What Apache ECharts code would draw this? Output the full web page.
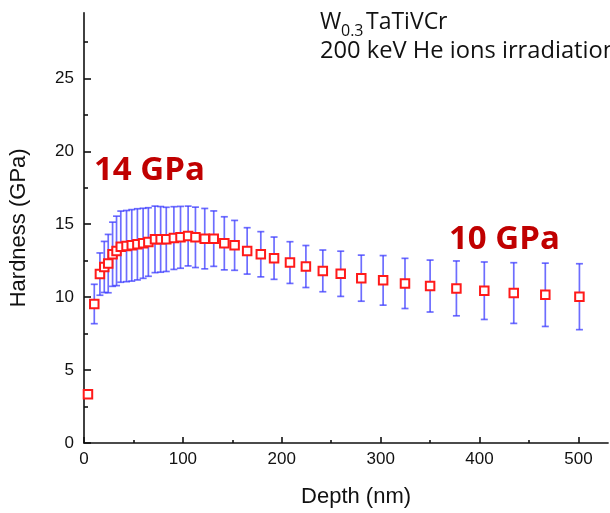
<!DOCTYPE html>
<html>
<head>
<meta charset="utf-8">
<script src="https://cdn.jsdelivr.net/npm/echarts@6/dist/echarts.min.js"></script>
<style>html,body{margin:0;padding:0;background:#fff}#c{width:610px;height:513px}</style>
</head>
<body>
<div id="c"></div>
<script>
var depth = [4, 10.4, 16.1, 20.5, 24.5, 28.9, 32.9, 37.2, 43, 48.3, 54, 59.8, 65.1, 71.8, 77.5, 83.2, 90.9, 97.6, 105.3, 112.7, 122.1, 131.2, 141.9, 152.3, 165, 178.8, 192.2, 208.3, 224.4, 241.5, 259.6, 280.4, 302.5, 324.6, 350, 376.6, 404.8, 434.6, 466.5, 501];
var hardness = [3.34, 9.53, 11.58, 12.07, 12.3, 12.94, 13.17, 13.46, 13.5, 13.55, 13.62, 13.69, 13.78, 13.96, 13.96, 13.96, 14.05, 14.1, 14.19, 14.1, 14.01, 14.01, 13.69, 13.55, 13.17, 12.94, 12.67, 12.37, 12.1, 11.8, 11.6, 11.3, 11.15, 10.94, 10.76, 10.6, 10.44, 10.28, 10.16, 10.03];
var errors = [null, 1.35, 1.45, 1.75, 2.0, 2.2, 2.38, 2.44, 2.44, 2.45, 2.44, 2.4, 2.35, 2.28, 2.25, 2.2, 2.15, 2.12, 2.05, 2.07, 2.07, 1.9, 1.82, 1.71, 1.59, 1.55, 1.45, 1.43, 1.44, 1.43, 1.55, 1.58, 1.7, 1.72, 1.78, 1.88, 1.97, 2.08, 2.17, 2.26];
var xMajorTicks = [0, 100, 200, 300, 400, 500];
var xMinorTicks = [50, 150, 250, 350, 450];
var yMajorTicks = [0, 5, 10, 15, 20, 25];
var yMinorTicks = [2.5, 7.5, 12.5, 17.5, 22.5, 27.5];
var xRange = [0, 530];
var yRange = [0, 29.5];
var titleLine1 = ['W', '0.3', 'TaTiVCr'];
var titleLine2 = '200 keV He ions irradiation';
var note1 = '14 GPa';
var note2 = '10 GPa';

var pts = depth.map(function (d, i) { return [d, hardness[i]]; });
var errData = [];
depth.forEach(function (d, i) {
  if (errors[i] != null) errData.push([d, hardness[i] - errors[i], hardness[i] + errors[i]]);
});

var labelFont = {fontFamily: 'Liberation Sans, Arial, sans-serif', fontSize: 17, color: '#111'};
var nameFont = {fontFamily: 'Liberation Sans, Arial, sans-serif', fontSize: 22, color: '#111'};
var axisLineStyle = {color: '#111', width: 1.6};

var chart = echarts.init(document.getElementById('c'), null, {renderer: 'canvas'});
chart.setOption({
  animation: false,
  backgroundColor: '#fff',
  grid: {left: 81.3, right: 1.9, top: 12.7, bottom: 68.3, containLabel: false},
  xAxis: [{
    type: 'value', min: xRange[0], max: xRange[1], interval: 100,
    name: 'Depth (nm)', nameLocation: 'middle', nameGap: 43,
    nameTextStyle: Object.assign({padding: [0, 0, 0, 20]}, nameFont),
    axisLine: {show: true, lineStyle: axisLineStyle},
    axisTick: {show: true, inside: true, length: 6, customValues: xMajorTicks, lineStyle: axisLineStyle},
    axisLabel: Object.assign({margin: 8, customValues: xMajorTicks}, labelFont),
    splitLine: {show: false}
  }, {
    type: 'value', min: xRange[0], max: xRange[1], position: 'bottom', offset: 0,
    axisLine: {show: false},
    axisTick: {show: true, inside: true, length: 3, customValues: xMinorTicks, lineStyle: axisLineStyle},
    axisLabel: {show: false},
    splitLine: {show: false}
  }],
  yAxis: [{
    type: 'value', min: yRange[0], max: yRange[1], interval: 5,
    name: 'Hardness (GPa)', nameLocation: 'middle', nameGap: 54,
    nameTextStyle: nameFont,
    axisLine: {show: true, lineStyle: axisLineStyle},
    axisTick: {show: true, inside: true, length: 7, customValues: yMajorTicks, lineStyle: axisLineStyle},
    axisLabel: Object.assign({margin: 10, customValues: yMajorTicks}, labelFont),
    splitLine: {show: false}
  }, {
    type: 'value', min: yRange[0], max: yRange[1], position: 'left', offset: 0,
    axisLine: {show: false},
    axisTick: {show: true, inside: true, length: 4, customValues: yMinorTicks, lineStyle: axisLineStyle},
    axisLabel: {show: false},
    splitLine: {show: false}
  }],
  series: [{
    type: 'custom',
    xAxisIndex: 0, yAxisIndex: 0,
    data: errData,
    z: 3,
    renderItem: function (params, api) {
      var x = api.value(0);
      var lo = api.coord([x, api.value(1)]);
      var hi = api.coord([x, api.value(2)]);
      var hw = 3.5;
      var st = {stroke: 'rgba(60,60,255,0.75)', lineWidth: 1.7};
      return {
        type: 'group',
        children: [
          {type: 'line', shape: {x1: lo[0], y1: lo[1], x2: hi[0], y2: hi[1]}, style: st},
          {type: 'line', shape: {x1: lo[0] - hw, y1: lo[1], x2: lo[0] + hw, y2: lo[1]}, style: st},
          {type: 'line', shape: {x1: hi[0] - hw, y1: hi[1], x2: hi[0] + hw, y2: hi[1]}, style: st}
        ]
      };
    }
  }, {
    type: 'scatter',
    xAxisIndex: 0, yAxisIndex: 0,
    data: pts,
    symbol: 'rect',
    symbolSize: 8.5,
    z: 4,
    clip: false,
    itemStyle: {color: '#fff', borderColor: '#ff1a1a', borderWidth: 2, opacity: 1}
  }],
  graphic: [
    {type: 'text', left: 320, top: 11, z: 10, style: {text: titleLine1[0], font: '23px "Open Sans", sans-serif', fill: '#111'}},
    {type: 'text', left: 341, top: 23, z: 10, style: {text: titleLine1[1], font: '16px "Open Sans", sans-serif', fill: '#111'}},
    {type: 'text', left: 366, top: 11, z: 10, style: {text: titleLine1[2], font: '23px "Open Sans", sans-serif', fill: '#111'}},
    {type: 'text', left: 320, top: 39, z: 10, style: {text: titleLine2, font: '23.7px "Open Sans", sans-serif', fill: '#111'}},
    {type: 'text', left: 94, top: 154, z: 10, style: {text: note1, font: 'bold 33px "Open Sans", sans-serif', fill: '#c00000'}},
    {type: 'text', left: 449, top: 223, z: 10, style: {text: note2, font: 'bold 33px "Open Sans", sans-serif', fill: '#c00000'}}
  ]
});
</script>
</body>
</html>
